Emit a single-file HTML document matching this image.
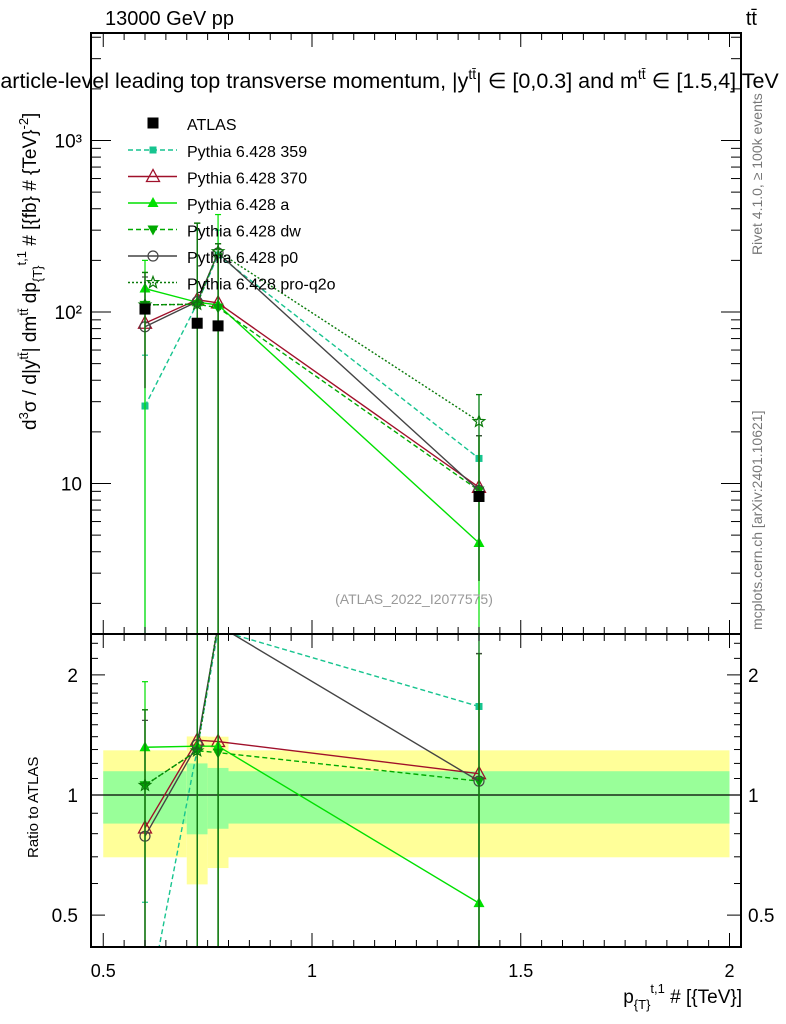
<!DOCTYPE html>
<html><head><meta charset="utf-8"><style>
body{margin:0;background:#fff;overflow:hidden;}
svg{display:block;font-family:"Liberation Sans",sans-serif;}
</style></head><body>
<svg id="c" width="786" height="1024" xmlns="http://www.w3.org/2000/svg">
<defs>
<clipPath id="cm"><rect x="91" y="33" width="650" height="601"/></clipPath>
<clipPath id="cr"><rect x="91" y="634" width="650" height="313"/></clipPath>
</defs>
<g id="bands" clip-path="url(#cr)"></g>
<g id="main" clip-path="url(#cm)"></g>
<g id="ratio" clip-path="url(#cr)"></g>
<g id="axes"></g>
<text x="105" y="25" font-size="20">13000 GeV pp</text>
<text x="757" y="25" font-size="20" text-anchor="end">tt̄</text>
<text x="-14" y="88" font-size="21.5">Particle-level leading top transverse momentum, |y<tspan dy="-9" font-size="14">tt̄</tspan><tspan dy="9">| ∈ [0,0.3] and m</tspan><tspan dy="-9" font-size="14">tt̄</tspan><tspan dy="9"> ∈ [1.5,4] TeV</tspan></text>
<text x="414" y="604" font-size="14" fill="#999" text-anchor="middle">(ATLAS_2022_I2077575)</text>
<text transform="translate(762,255) rotate(-90)" font-size="14" fill="#777">Rivet 4.1.0, ≥ 100k events</text>
<text transform="translate(762,630) rotate(-90)" font-size="14" fill="#777">mcplots.cern.ch [arXiv:2401.10621]</text>
<text transform="translate(36,430) rotate(-90)" font-size="19">d<tspan dy="-8" font-size="13">3</tspan><tspan dy="8">σ / d|y</tspan><tspan dy="-8" font-size="13">tt̄</tspan><tspan dy="8">| dm</tspan><tspan dy="-8" font-size="13">tt̄</tspan><tspan dy="8"> dp</tspan><tspan dy="6" font-size="13">{T}</tspan><tspan dy="-16" font-size="13">t,1</tspan><tspan dy="10"> # [{fb} # {TeV}</tspan><tspan dy="-8" font-size="13">-2</tspan><tspan dy="8">]</tspan></text>
<text transform="translate(38,858) rotate(-90)" font-size="15">Ratio to ATLAS</text>
<text x="742" y="1003" font-size="19" text-anchor="end">p<tspan dy="6" font-size="13">{T}</tspan><tspan dy="-16" font-size="13">t,1</tspan><tspan dy="10"> # [{TeV}]</tspan></text>
<g id="legend"></g>
</svg>
<script>
const xCats=[0.6,0.725,0.775,1.4];
const atlas=[104,86,83,8.4];
const s359=[28.3,112,215,14];
const s370=[86,118,113,9.5];
const sA=[137,114,110,4.5];
const sDW=[110,111,106,9.1];
const sP0=[82,115,221,9.1];
const sQ2O=[110,111,225,23];
const hi359=[56,300,300,33];const lo359=[0.1,0.1,0.1,2.7];
const hi370=[170,330,250,19];const lo370=[36,0.1,0.1,2.7];
const hiA=[200,330,370,19];const loA=[0.1,0.1,0.1,0.1];
const hiDW=[170,330,250,19];const loDW=[56,0.1,0.1,2.7];
const hiP0=[160,330,250,19];const loP0=[36,0.1,0.1,2.7];
const hiQ2O=[170,330,250,33];const loQ2O=[36,0.1,0.1,2.7];
const bandEdges=[0.5,0.7,0.75,0.8,2.0];
const yelHi=[1.294,1.402,1.40,1.294];const yelLo=[0.698,0.597,0.656,0.698];
const grnHi=[1.147,1.20,1.169,1.147];const grnLo=[0.848,0.797,0.823,0.848];
const xTicks=[0.5,1,1.5,2];const xTickLabels=["0.5","1","1.5","2"];
const yTicks=[10,100,1000];const yTickLabels=["10","10²","10³"];
const rTicks=[0.5,1,2];const rTickLabels=["0.5","1","2"];

const NS="http://www.w3.org/2000/svg";
const XR=741,YB=947;
const xs=v=>103.25+(v-0.5)*417.5;
const ym=v=>312-(Math.log10(v)-2)*171.5;
const yr=v=>795-Math.log10(v)*399;
function mk(p,t,a){const e=document.createElementNS(NS,t);for(const k in a)e.setAttribute(k,a[k]);p.appendChild(e);return e;}
const G=id=>document.getElementById(id);

for(let i=0;i<4;i++){
 const x0=xs(bandEdges[i]),x1=xs(bandEdges[i+1]);
 const r1=mk(G('bands'),'rect',{x:x0,y:yr(yelHi[i]),width:x1-x0,height:yr(yelLo[i])-yr(yelHi[i]),fill:'#ffff99'});
 
 
 const r2=mk(G('bands'),'rect',{x:x0,y:yr(grnHi[i]),width:x1-x0,height:yr(grnLo[i])-yr(grnHi[i]),fill:'#99ff99'});
 
 
}
mk(G('bands'),'line',{x1:91,x2:XR,y1:yr(1),y2:yr(1),stroke:'#000','stroke-width':1.3});

function marker(p,type,x,y,col){
 let e;
 if(type==='sq')e=mk(p,'rect',{x:x-3.5,y:y-3.5,width:7,height:7,fill:col});
 else if(type==='bsq')e=mk(p,'rect',{x:x-5.5,y:y-5.5,width:11,height:11,fill:col});
 else if(type==='tri')e=mk(p,'polygon',{points:`${x},${y-7} ${x-6.5},${y+5} ${x+6.5},${y+5}`,fill:'none',stroke:col,'stroke-width':1.3});
 else if(type==='ftri')e=mk(p,'polygon',{points:`${x},${y-6} ${x-5.5},${y+4} ${x+5.5},${y+4}`,fill:col});
 else if(type==='itri')e=mk(p,'polygon',{points:`${x},${y+6} ${x-5.5},${y-4} ${x+5.5},${y-4}`,fill:col});
 else if(type==='circ')e=mk(p,'circle',{cx:x,cy:y,r:5,fill:'none',stroke:col,'stroke-width':1.2});
 else if(type==='star'){let pts=[];for(let k=0;k<10;k++){const r=k%2?2.5:6,a=-Math.PI/2+k*Math.PI/5;pts.push((x+r*Math.cos(a)).toFixed(1)+','+(y+r*Math.sin(a)).toFixed(1));}e=mk(p,'polygon',{points:pts.join(' '),fill:'none',stroke:col,'stroke-width':1.2});}
 return e;
}

const series=[
 {n:'Pythia 6.428 359',v:s359,hi:hi359,lo:lo359,c:'#17c48f',d:'5,3',m:'sq',key:'p359'},
 {n:'Pythia 6.428 370',v:s370,hi:hi370,lo:lo370,c:'#a0102a',d:'',m:'tri',key:'p370'},
 {n:'Pythia 6.428 a',v:sA,hi:hiA,lo:loA,c:'#00e000',d:'',m:'ftri',key:'pa'},
 {n:'Pythia 6.428 dw',v:sDW,hi:hiDW,lo:loDW,c:'#00aa00',d:'5,3',m:'itri',key:'pdw'},
 {n:'Pythia 6.428 p0',v:sP0,hi:hiP0,lo:loP0,c:'#444',d:'',m:'circ',key:'pp0'},
 {n:'Pythia 6.428 pro-q2o',v:sQ2O,hi:hiQ2O,lo:loQ2O,c:'#0a7a0a',d:'2,2',m:'star',key:'pq2o'}
];

series.forEach(s=>{
 [['main',ym,1],['ratio',yr,0]].forEach(([gid,yf,isMain])=>{
  const g=mk(G(gid),'g',{});
  
  
  const val=i=>isMain?s.v[i]:s.v[i]/atlas[i];
  const hv=i=>isMain?s.hi[i]:s.hi[i]/atlas[i];
  const lv=i=>isMain?s.lo[i]:s.lo[i]/atlas[i];
  xCats.forEach((x,i)=>{
   const eb=mk(g,'line',{x1:xs(x),x2:xs(x),y1:yf(hv(i)),y2:yf(lv(i)),stroke:s.c,'stroke-width':1.2});
   
   
   mk(g,'line',{x1:xs(x)-3,x2:xs(x)+3,y1:yf(hv(i)),y2:yf(hv(i)),stroke:s.c,'stroke-width':1.2});
  });
  const pl=mk(g,'polyline',{points:xCats.map((x,i)=>xs(x)+','+yf(val(i))).join(' '),fill:'none',stroke:s.c,'stroke-width':1.4,'stroke-dasharray':s.d});
  
  
  xCats.forEach((x,i)=>{
   const m=marker(g,s.m,xs(x),yf(val(i)),s.c);
   
   
  });
 });
});
xCats.forEach((x,i)=>{
 const m=marker(G('main'),'bsq',xs(x),ym(atlas[i]),'#000');
 
 
});

const L=G('legend');
const le0=mk(L,'g',{});


marker(le0,'bsq',153,123,'#000');
mk(le0,'text',{x:187,y:130,'font-size':16}).textContent='ATLAS';
series.forEach((s,i)=>{
 const y=150+i*26.5;
 const g=mk(L,'g',{});
 
 
 mk(g,'line',{x1:128,x2:177,y1:y,y2:y,stroke:s.c,'stroke-width':1.4,'stroke-dasharray':s.d});
 marker(g,s.m,153,y,s.c);
 mk(g,'text',{x:187,y:y+7,'font-size':16}).textContent=s.n;
});

const A=G('axes');
mk(A,'rect',{x:91,y:33,width:XR-91,height:601,fill:'none',stroke:'#000','stroke-width':2});
mk(A,'rect',{x:91,y:634,width:XR-91,height:YB-634,fill:'none',stroke:'#000','stroke-width':2});
for(let v=0.5;v<=2.101;v+=0.05){
 const x=xs(v);const major=Math.abs(v*2-Math.round(v*2))<1e-6;const len=major?14:7;
 [[634,634-len],[634,634+len],[YB,YB-len],[33,33+len]].forEach(([a,b])=>{if(x<XR)mk(A,'line',{x1:x,x2:x,y1:a,y2:b,stroke:'#000','stroke-width':1});});
}
xTicks.forEach((v,i)=>{const t=mk(A,'text',{x:xs(v),y:977,'font-size':18,'text-anchor':'middle'});t.textContent=xTickLabels[i];});
for(let d=0;d<=3;d++)for(let k=1;k<10;k++){
 const v=k*Math.pow(10,d);const y=ym(v);if(y<33||y>634)continue;const len=k===1?20:10;
 mk(A,'line',{x1:91,x2:91+len,y1:y,y2:y,stroke:'#000'});mk(A,'line',{x1:XR,x2:XR-len,y1:y,y2:y,stroke:'#000'});
}
yTicks.forEach((v,i)=>{const t=mk(A,'text',{x:82,y:ym(v)+7,'font-size':19,'text-anchor':'end'});t.textContent=yTickLabels[i];});
[0.4,0.5,0.6,0.7,0.8,0.9,1,1.1,1.2,1.3,1.4,1.5,1.6,1.7,1.8,1.9,2,2.2,2.4].forEach(v=>{
 const y=yr(v);if(y<634||y>YB)return;const len=(v===0.5||v===1||v===2)?14:7;
 mk(A,'line',{x1:91,x2:91+len,y1:y,y2:y,stroke:'#000'});mk(A,'line',{x1:XR,x2:XR-len,y1:y,y2:y,stroke:'#000'});
});
rTicks.forEach((v,i)=>{
 const t=mk(A,'text',{x:78,y:yr(v)+7,'font-size':19,'text-anchor':'end'});t.textContent=rTickLabels[i];
 const t2=mk(A,'text',{x:748,y:yr(v)+7,'font-size':19});t2.textContent=rTickLabels[i];
});
</script>
</body></html>
